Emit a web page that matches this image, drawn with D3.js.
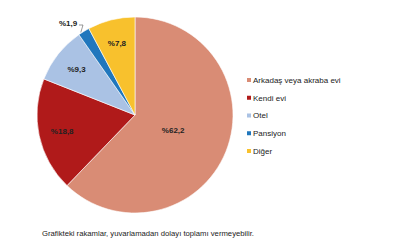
<!DOCTYPE html>
<html>
<head>
<meta charset="utf-8">
<script src="https://cdn.jsdelivr.net/npm/d3@7"></script>
<style>
  body { margin: 0; background: #fff; }
  svg { display: block; font-family: "Liberation Sans", Arial, sans-serif; }
</style>
</head>
<body>
<svg id="chart" width="400" height="240"></svg>
<script>
const categories = ["Arkadaş veya akraba evi", "Kendi evi", "Otel", "Pansiyon", "Diğer"];
const values = [62.2, 18.8, 9.3, 1.9, 7.8];
const colors = ["#D98C75", "#B01A1A", "#AAC2E4", "#2077BD", "#F8C12D"];
const note = "Grafikteki rakamlar, yuvarlamadan dolayı toplamı vermeyebilir.";

const svg = d3.select("#chart");
const cx = 135, cy = 115, r = 98;

const pie = d3.pie().sort(null).value(d => d.value);
const arcs = pie(categories.map((c, i) => ({ name: c, value: values[i], color: colors[i] })));

const arc = d3.arc().innerRadius(0).outerRadius(r);

const g = svg.append("g").attr("transform", `translate(${cx},${cy})`);

g.selectAll("path")
  .data(arcs)
  .enter().append("path")
  .attr("d", arc)
  .attr("fill", d => d.data.color)
  .attr("stroke", "#fff")
  .attr("stroke-width", 0.6);

const fmt = v => "%" + d3.format(".1f")(v).replace(".", ",");

// label placement: big slice nearer the centre, others near the rim
function labelPos(d) {
  const a = (d.startAngle + d.endAngle) / 2;
  const k = d.data.value > 50 ? 0.42 : 0.76;
  return [Math.sin(a) * r * k, -Math.cos(a) * r * k];
}

g.selectAll("text.lbl")
  .data(arcs.filter(d => d.data.value >= 5))
  .enter().append("text")
  .attr("class", "lbl")
  .attr("transform", d => `translate(${labelPos(d)})`)
  .attr("text-anchor", "middle")
  .attr("dy", "0.35em")
  .style("font-size", "8px")
  .style("font-weight", "bold")
  .style("fill", "#222")
  .text(d => fmt(d.data.value));

// small slice: outside label with leader line
arcs.filter(d => d.data.value < 5).forEach(d => {
  const a = (d.startAngle + d.endAngle) / 2;
  const ex = Math.sin(a) * r, ey = -Math.cos(a) * r;
  const lx = -67, ly = -92;
  g.append("path")
    .attr("d", `M${lx + 11},${ly + 2} L${lx + 15},${ly + 2} L${ex - 3},${ey + 1}`)
    .attr("fill", "none")
    .attr("stroke", "#555")
    .attr("stroke-width", 0.6);
  g.append("text")
    .attr("x", lx)
    .attr("y", ly)
    .attr("text-anchor", "middle")
    .attr("dy", "0.35em")
    .style("font-size", "8px")
    .style("font-weight", "bold")
    .style("fill", "#222")
    .text(fmt(d.data.value));
});

// legend
const legY = d3.scalePoint().domain(categories).range([80, 151]);
const leg = svg.append("g");
categories.forEach((c, i) => {
  leg.append("rect")
    .attr("x", 247)
    .attr("y", legY(c) - 2)
    .attr("width", 4)
    .attr("height", 4)
    .attr("fill", colors[i]);
  leg.append("text")
    .attr("x", 253)
    .attr("y", legY(c))
    .attr("dy", "0.35em")
    .style("font-size", "8px")
    .style("fill", "#222")
    .text(c);
});

svg.append("text")
  .attr("x", 42)
  .attr("y", 236)
  .style("font-size", "7.7px")
  .style("fill", "#222")
  .text(note);
</script>
</body>
</html>
